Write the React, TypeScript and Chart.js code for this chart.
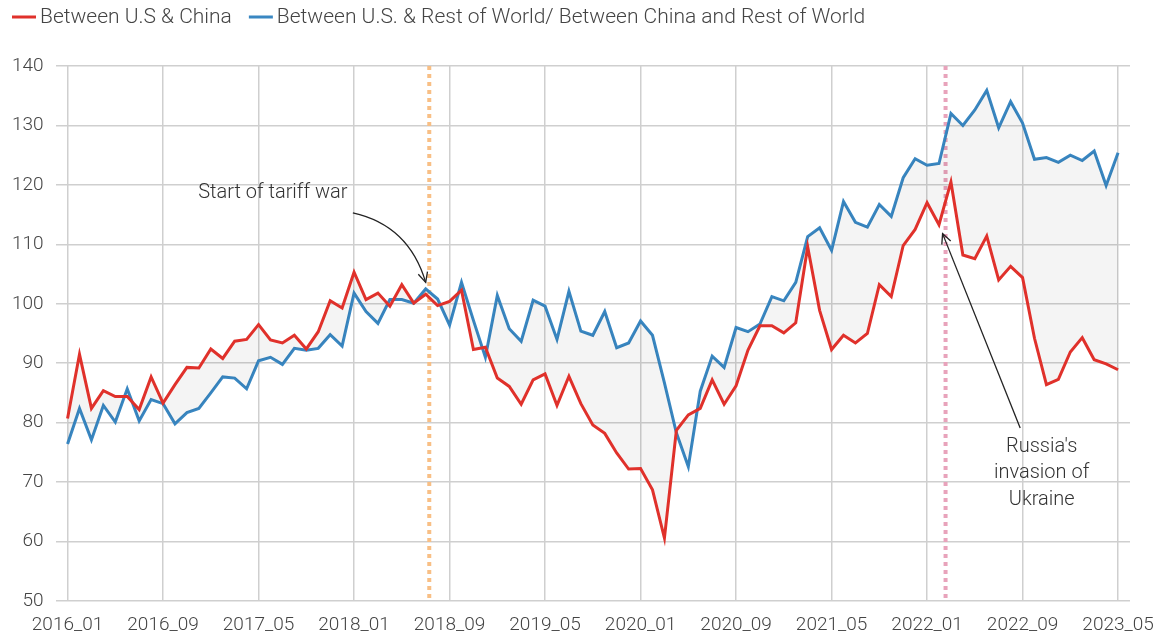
import { useEffect, useRef } from "react";
import { Chart, registerables } from "chart.js";

Chart.register(...registerables);

// ---- data ----
const months: string[] = [];
for (let i = 0; i < 89; i++) {
  const y = 2016 + Math.floor(i / 12);
  const m = (i % 12) + 1;
  months.push(`${y}_${String(m).padStart(2, "0")}`);
}

const tickLabels = [
  "2016_01", "2016_09", "2017_05", "2018_01", "2018_09", "2019_05",
  "2020_01", "2020_09", "2021_05", "2022_01", "2022_09", "2023_05",
];

const usChina = [
  80.7, 91.5, 82.4, 85.4, 84.4, 84.4, 82.2, 87.7, 83.3, 86.4, 89.3, 89.2,
  92.4, 90.8, 93.7, 94.0, 96.5, 93.9, 93.4, 94.7, 92.4, 95.3, 100.5, 99.3,
  105.3, 100.7, 101.8, 99.6, 103.2, 100.1, 101.6, 99.7, 100.4, 102.3, 92.3, 92.7,
  87.5, 86.1, 83.1, 87.2, 88.2, 82.9, 87.8, 83.2, 79.6, 78.2, 74.9, 72.2,
  72.3, 68.7, 60.6, 78.7, 81.3, 82.4, 87.2, 83.1, 86.2, 92.2, 96.3, 96.3,
  95.1, 96.8, 109.6, 98.9, 92.3, 94.7, 93.4, 95.0, 103.2, 101.2, 109.8, 112.5,
  117.0, 113.3, 120.5, 108.2, 107.6, 111.4, 104.0, 106.3, 104.4, 94.2, 86.4, 87.3,
  91.9, 94.3, 90.6, 89.9, 88.9,
];

const restOfWorld = [
  76.4, 82.4, 77.1, 82.9, 80.1, 85.7, 80.3, 83.9, 83.2, 79.8, 81.7, 82.4,
  85.0, 87.7, 87.5, 85.7, 90.4, 91.0, 89.8, 92.5, 92.2, 92.5, 94.8, 92.9,
  101.8, 98.7, 96.7, 100.7, 100.7, 100.1, 102.5, 100.8, 96.4, 103.6, 97.2, 91.0,
  101.4, 95.8, 93.7, 100.6, 99.6, 94.0, 102.1, 95.4, 94.7, 98.7, 92.6, 93.4,
  97.1, 94.7, 86.7, 78.3, 72.6, 85.3, 91.2, 89.3, 96.0, 95.3, 96.6, 101.2,
  100.5, 103.6, 111.3, 112.8, 109.0, 117.2, 113.7, 112.9, 116.7, 114.7, 121.2, 124.4,
  123.3, 123.6, 132.0, 130.0, 132.6, 135.9, 129.6, 134.0, 130.4, 124.3, 124.6, 123.8,
  125.0, 124.1, 125.7, 119.9, 125.4,
];

const seriesNames = [
  "Between U.S & China",
  "Between U.S. & Rest of World/ Between China and Rest of World",
];

// event markers (month index, fractional)
const eventPositions = [30.3, 73.55];
const eventColors = ["#f8bf85", "#e8a3bb"];

const RED = "#e0312b";
const BLUE = "#3987c2";
const FONT = "Roboto, 'Noto Sans', sans-serif";
const TEXT = "#444";

export default function App() {
  const ref = useRef<HTMLCanvasElement | null>(null);

  useEffect(() => {
    document.body.style.margin = "0";
    const canvas = ref.current!;
    const tickIdx = tickLabels.map((t) => months.indexOf(t));

    const overlay = {
      id: "overlay",
      beforeDatasetsDraw(chart: any) {
        const { ctx, chartArea, scales } = chart;
        const x = scales.x;
        ctx.save();
        ctx.lineWidth = 4;
        ctx.setLineDash([4, 4]);
        eventPositions.forEach((p, k) => {
          const px = x.getPixelForValue(p);
          ctx.strokeStyle = eventColors[k];
          ctx.beginPath();
          ctx.moveTo(px, chartArea.top);
          ctx.lineTo(px, chartArea.bottom);
          ctx.stroke();
        });
        ctx.restore();
      },
      afterDraw(chart: any) {
        const { ctx, scales } = chart;
        const x = scales.x;
        const y = scales.y;
        const P = (i: number, v: number) => [x.getPixelForValue(i), y.getPixelForValue(v)];

        // legend
        ctx.save();
        ctx.font = `300 21px ${FONT}`;
        ctx.textBaseline = "middle";
        ctx.textAlign = "left";
        let lx = 12;
        const ly = 17;
        [RED, BLUE].forEach((c, k) => {
          ctx.fillStyle = c;
          ctx.fillRect(lx, ly - 1.5, 24, 3);
          ctx.fillStyle = TEXT;
          ctx.fillText(seriesNames[k], lx + 28, ly + 1);
          lx += 28 + ctx.measureText(seriesNames[k]).width + 17;
        });
        ctx.restore();

        // annotations
        ctx.save();
        ctx.font = `300 20px ${FONT}`;
        ctx.fillStyle = "#333";
        ctx.textAlign = "center";
        ctx.textBaseline = "middle";
        const [tx, ty] = P(17.2, 118.7);
        ctx.fillText("Start of tariff war", tx, ty);
        const [rx, r1] = P(81.6, 75.9);
        const [, r2] = P(81.6, 71.5);
        const [, r3] = P(81.6, 67.0);
        ctx.fillText("Russia's", rx, r1);
        ctx.fillText("invasion of", rx, r2);
        ctx.fillText("Ukraine", rx, r3);

        ctx.strokeStyle = "#222";
        ctx.lineWidth = 1.3;
        const arrowHead = (ex: number, ey: number, ang: number) => {
          const L = 11;
          ctx.beginPath();
          ctx.moveTo(ex + L * Math.cos(ang + Math.PI - 0.45), ey + L * Math.sin(ang + Math.PI - 0.45));
          ctx.lineTo(ex, ey);
          ctx.lineTo(ex + L * Math.cos(ang + Math.PI + 0.45), ey + L * Math.sin(ang + Math.PI + 0.45));
          ctx.stroke();
        };
        // curved tariff arrow
        const [ax0, ay0] = P(23.9, 115.3);
        const [acx, acy] = P(28.6, 113.2);
        const [ax1, ay1] = P(30.0, 103.6);
        ctx.beginPath();
        ctx.moveTo(ax0, ay0);
        ctx.quadraticCurveTo(acx, acy, ax1, ay1);
        ctx.stroke();
        arrowHead(ax1, ay1, Math.atan2(ay1 - acy, ax1 - acx));
        // russia arrow
        const [bx0, by0] = P(79.8, 79.1);
        const [bx1, by1] = P(73.3, 111.8);
        ctx.beginPath();
        ctx.moveTo(bx0, by0);
        ctx.lineTo(bx1, by1);
        ctx.stroke();
        arrowHead(bx1, by1, Math.atan2(by1 - by0, bx1 - bx0));
        ctx.restore();
      },
    };

    const chart = new Chart(canvas, {
      type: "line",
      data: {
        datasets: [
          {
            label: seriesNames[0],
            data: usChina.map((v, i) => ({ x: i, y: v })),
            borderColor: RED,
            borderWidth: 3,
            pointRadius: 0,
            tension: 0,
            fill: "+1",
            backgroundColor: "rgba(0,0,0,0.045)",
          },
          {
            label: seriesNames[1],
            data: restOfWorld.map((v, i) => ({ x: i, y: v })),
            borderColor: BLUE,
            borderWidth: 3,
            pointRadius: 0,
            tension: 0,
            fill: false,
          },
        ],
      },
      options: {
        animation: false,
        responsive: false,
        maintainAspectRatio: false,
        layout: { padding: { top: 66, left: 0, right: 29, bottom: 0 } },
        plugins: {
          legend: { display: false },
          tooltip: { enabled: false },
        },
        scales: {
          x: {
            type: "linear",
            min: -1,
            max: 89,
            afterBuildTicks: (s: any) => {
              s.ticks = tickIdx.map((v) => ({ value: v }));
            },
            afterFit: (s: any) => {
              s.height = 35;
              s.paddingLeft = 0;
              s.paddingRight = 0;
            },
            ticks: {
              autoSkip: false,
              maxRotation: 0,
              padding: 13,
              color: TEXT,
              font: { family: FONT, size: 19, weight: "300" as any },
              callback: (v: any) => months[Math.round(Number(v))],
            },
            grid: { color: "#cfcfcf", lineWidth: 1.5, drawTicks: false },
            border: { display: false },
          },
          y: {
            min: 50,
            max: 140,
            ticks: {
              stepSize: 10,
              padding: 12,
              color: TEXT,
              font: { family: FONT, size: 19, weight: "300" as any },
            },
            grid: { color: "#cfcfcf", lineWidth: 1.5, drawTicks: false },
            border: { display: false },
          },
        },
      },
      plugins: [overlay],
    });
    return () => chart.destroy();
  }, []);

  return (
    <div style={{ position: "absolute", left: 0, top: 0, width: 1159, height: 636 }}>
      <canvas ref={ref} width={1159} height={636} style={{ width: 1159, height: 636 }} />
    </div>
  );
}
